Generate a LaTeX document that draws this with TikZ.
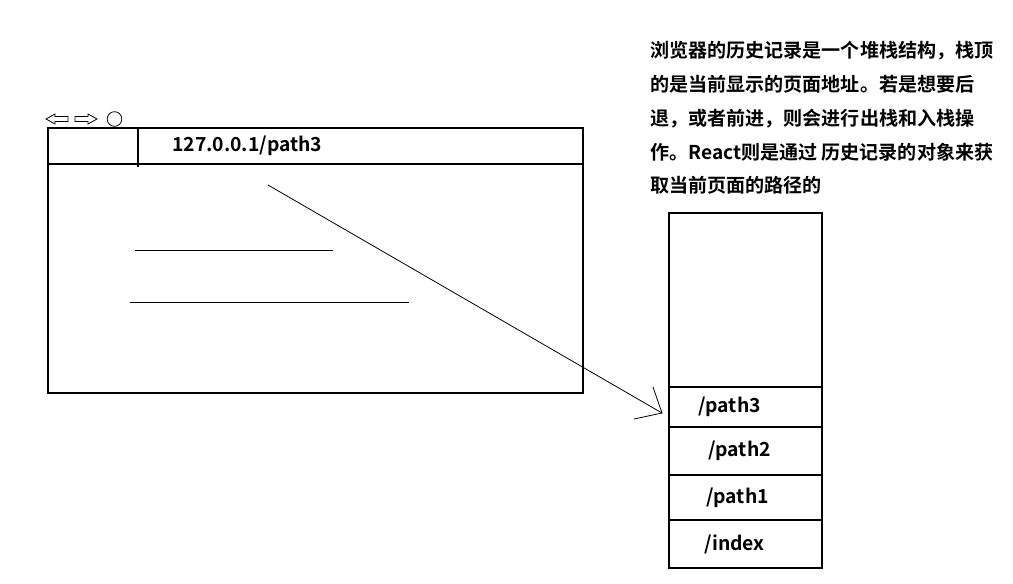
\documentclass[tikz,border=0pt]{standalone}
\usepackage{fontspec}
\newfontfamily\cjkb{Noto Sans CJK SC Bold}
\usetikzlibrary{positioning}
\tikzset{
frame/.style={draw, line width=2.2pt},
cell/.style={frame, minimum width=153*0.75pt, inner sep=0pt, outer sep=0pt},
thinline/.style={line width=0.6pt},
lbl/.style={font=\cjkb\fontsize{14.5}{17}\selectfont, inner sep=0pt},
note/.style={font=\cjkb\fontsize{14.3}{25.4}\selectfont, align=left, inner sep=0pt}
}

\begin{document}
\begin{tikzpicture}[x=0.75pt,y=-0.75pt]
  \useasboundingbox (0,0) rectangle (1013,583);
  % browser window
  \draw[frame] (48,128) rectangle (583,393);
  \draw[frame] (48,164) -- (583,164);
  \draw[frame] (138,128) -- (138,167);
  \node[lbl, anchor=west] (url) at (172,146) {127.0.0.1/path3};
  % back, forward, reload
  \draw[thinline] (46,119) -- (55,114) -- (55,116.5) -- (68,116.5) -- (68,121.5) -- (55,121.5) -- (55,124) -- cycle;
  \draw[thinline] (97,119) -- (88,114) -- (88,116.5) -- (75,116.5) -- (75,121.5) -- (88,121.5) -- (88,124) -- cycle;
  \draw[thinline] (114.5,119) circle (5.5pt);
  % page content
  \draw[thinline] (135,250) -- (333,250);
  \draw[thinline] (130,302) -- (409,302);
  % history stack
  \node[cell, minimum height=174*0.75pt] (top) at (745.5,300) {};
  \node[cell, minimum height=40*0.75pt, below=0pt of top] (p3) {};
  \node[cell, minimum height=48*0.75pt, below=0pt of p3] (p2) {};
  \node[cell, minimum height=45*0.75pt, below=0pt of p2] (p1) {};
  \node[cell, minimum height=48*0.75pt, below=0pt of p1] (idx) {};
  \node[lbl] at ([xshift=-16*0.75pt]p3.center) {/path3};
  \node[lbl] at ([xshift=-6*0.75pt]p2.center) {/path2};
  \node[lbl] at ([xshift=-8*0.75pt]p1.center) {/path1};
  \node[lbl] at ([xshift=-11*0.75pt]idx.center) {/index};
  % arrow
  \coordinate (from) at (268,185);
  \coordinate (tip) at (662,413);
  \draw[thinline] (from) -- (tip);
  \draw[thinline] (653,387) -- (tip) -- (634,419);
  % note
  \node[note, anchor=north west] (txt) at (650,41) {浏览器的历史记录是一个堆栈结构，栈顶\\的是当前显示的页面地址。若是想要后\\退，或者前进，则会进行出栈和入栈操\\作。React则是通过 历史记录的对象来获\\取当前页面的路径的};
\end{tikzpicture}
\end{document}
